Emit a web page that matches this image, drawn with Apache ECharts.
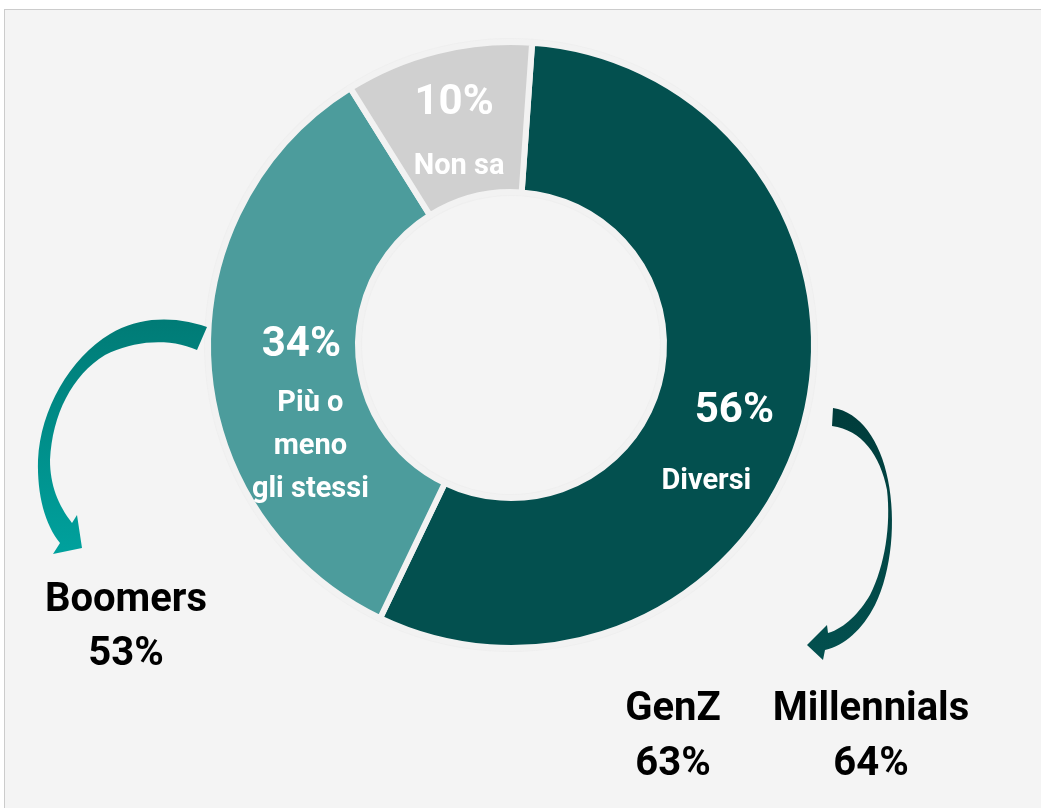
<!DOCTYPE html>
<html>
<head>
<meta charset="utf-8">
<script src="https://cdn.jsdelivr.net/npm/echarts@6/dist/echarts.min.js"></script>
<style>
  html, body { margin: 0; padding: 0; background: #ffffff; }
  #panel {
    position: absolute; left: 4px; top: 9px;
    width: 1050px; height: 810px;
    background: #f4f4f4;
    border-top: 1px solid #cccccc;
    border-left: 1px solid #cccccc;
  }
  #chart { position: absolute; left: 0; top: 0; width: 1041px; height: 808px; }
</style>
</head>
<body>
<div id="panel"></div>
<div id="chart"></div>
<script>
// risposte (quota %)
const answers = ['Diversi', 'Più o\nmeno\ngli stessi', 'Non sa']
const shares = [56, 34, 10]
const sliceColors = ['#03504f', '#4c9c9c', '#d0d0d0']

// quota "Diversi" per generazione
const generations = ['Boomers', 'GenZ', 'Millennials']
const genShares = [53, 63, 64]

const FONT = 'Roboto, "DejaVu Sans", sans-serif'
const center = [511, 345]
const radius = [153, 303]

// offsets of the labels from the slice mid point
const pctOffset = [[0, 7], [21, -12], [-1, -17]]
const nameOffset = [[-28, 78], [30, 89], [4, 46]]

var chart = echarts.init(document.getElementById('chart'))

// turn a simple "M / C / L" outline into polygon points
function outline(segs) {
  var pts = [segs[0]]
  var cur = segs[0]
  for (var i = 1; i < segs.length; i++) {
    var s = segs[i]
    if (s.length === 2) {
      pts.push(s); cur = s
    } else {
      var p1 = [s[0], s[1]], p2 = [s[2], s[3]], p3 = [s[4], s[5]]
      for (var k = 1; k <= 16; k++) {
        var t = k / 16, u = 1 - t
        pts.push([
          u * u * u * cur[0] + 3 * u * u * t * p1[0] + 3 * u * t * t * p2[0] + t * t * t * p3[0],
          u * u * u * cur[1] + 3 * u * u * t * p1[1] + 3 * u * t * t * p2[1] + t * t * t * p3[1]
        ])
      }
      cur = p3
    }
  }
  return pts
}

var leftArrow = outline([
  [207, 327],
  [175, 316, 140, 316, 110, 334],
  [70, 358, 40, 410, 38, 460],
  [37, 495, 45, 525, 60, 543],
  [53, 554], [82, 548], [77, 515], [72, 523],
  [58, 505, 50, 485, 50, 460],
  [52, 415, 72, 375, 105, 355],
  [135, 340, 170, 338, 197, 350]
])
var rightArrow = outline([
  [833, 408],
  [860, 412, 880, 440, 888, 480],
  [896, 520, 892, 570, 875, 605],
  [862, 630, 845, 645, 825, 650],
  [823, 660], [807, 645], [827, 625], [828, 633],
  [845, 628, 860, 612, 870, 595],
  [885, 565, 891, 525, 887, 490],
  [880, 455, 862, 430, 832, 426]
])

var pctData = answers.map((a, i) => ({
  name: a,
  value: shares[i],
  itemStyle: { color: sliceColors[i] },
  label: { offset: pctOffset[i] }
}))
var nameData = answers.map((a, i) => ({
  name: a,
  value: shares[i],
  label: { offset: nameOffset[i] }
}))

// positions of the generation labels under the arrows
const genPos = [[126, 601, 655], [673, 710, 765], [871, 710, 765]]
var genText = []
generations.forEach((g, i) => {
  genText.push({
    type: 'text', z: 10,
    style: { text: g, x: genPos[i][0], y: genPos[i][1], font: 'bold 40px ' + FONT, fill: '#000', textAlign: 'center', textVerticalAlign: 'middle' }
  })
  genText.push({
    type: 'text', z: 10,
    style: { text: genShares[i] + '%', x: genPos[i][0], y: genPos[i][2], font: 'bold 40px ' + FONT, fill: '#000', textAlign: 'center', textVerticalAlign: 'middle' }
  })
})

var option = {
  backgroundColor: 'transparent',
  animation: false,
  graphic: [
    {
      // freccia sinistra (Boomers)
      type: 'polygon', z: 5,
      shape: { points: leftArrow },
      style: {
        fill: new echarts.graphic.LinearGradient(0, 0, 0, 1, [
          { offset: 0, color: '#007b76' }, { offset: 1, color: '#00a19d' }
        ])
      }
    },
    {
      // freccia destra (GenZ / Millennials)
      type: 'polygon', z: 5,
      shape: { points: rightArrow },
      style: {
        fill: new echarts.graphic.LinearGradient(0, 0, 0, 1, [
          { offset: 0, color: '#003c3b' }, { offset: 1, color: '#03504f' }
        ])
      }
    }
  ].concat(genText),
  series: [
    {
      type: 'pie',
      silent: true,
      center: center,
      radius: [149, 307],
      startAngle: 86,
      label: { show: false },
      labelLine: { show: false },
      itemStyle: { color: '#efefef' },
      data: [{ value: 1 }]
    },
    {
      type: 'pie',
      center: center,
      radius: radius,
      startAngle: 86,
      clockwise: true,
      avoidLabelOverlap: false,
      itemStyle: { borderColor: '#f2f2f2', borderWidth: 6 },
      label: {
        show: true,
        position: 'inside',
        formatter: p => p.value + '%',
        color: '#ffffff',
        fontFamily: FONT,
        fontWeight: 'bold',
        fontSize: 42
      },
      labelLine: { show: false },
      data: pctData
    },
    {
      type: 'pie',
      silent: true,
      center: center,
      radius: radius,
      startAngle: 86,
      clockwise: true,
      avoidLabelOverlap: false,
      itemStyle: { color: 'transparent' },
      label: {
        show: true,
        position: 'inside',
        formatter: p => p.name,
        color: '#ffffff',
        fontFamily: FONT,
        fontWeight: 'bold',
        fontSize: 29,
        lineHeight: 43
      },
      labelLine: { show: false },
      data: nameData
    }
  ]
}
option && chart.setOption(option)
</script>
</body>
</html>
